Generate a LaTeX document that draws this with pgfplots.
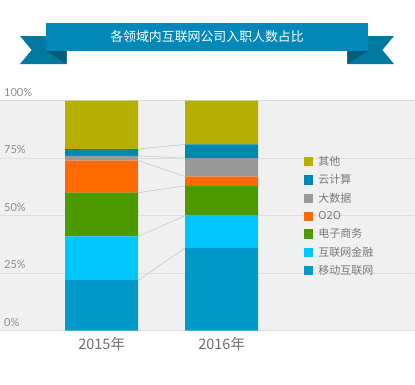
\documentclass[border=0pt]{standalone}
\usepackage{pgfplots}
\pgfplotsset{compat=1.18}
\usepackage{fontspec}
\setmainfont{Noto Sans CJK SC}
\newfontfamily\numfont{Lato}
\definecolor{cOther}{RGB}{181,176,0}
\definecolor{cCloud}{RGB}{0,136,176}
\definecolor{cBig}{RGB}{153,153,153}
\definecolor{cOTO}{RGB}{255,106,0}
\definecolor{cEcom}{RGB}{76,154,0}
\definecolor{cFin}{RGB}{0,198,255}
\definecolor{cMob}{RGB}{0,154,200}
\definecolor{bggray}{RGB}{240,240,240}
\definecolor{gridgray}{RGB}{222,222,222}
\definecolor{txtgray}{RGB}{140,140,140}
\definecolor{yeargray}{RGB}{110,110,110}
\definecolor{legtxt}{RGB}{120,120,120}
\definecolor{ribbon}{RGB}{0,136,184}
\definecolor{ribtail}{RGB}{0,120,160}
\definecolor{ribfold}{RGB}{0,92,124}
\definecolor{linkgray}{RGB}{200,200,200}
\begin{document}
\begin{tikzpicture}[x=1pt,y=1pt]
\useasboundingbox[fill=white] (0,0) rectangle (415,384);
% ribbon
\fill[ribtail] (20,348) -- (66.7,348) -- (66.7,320) -- (20,320) -- (31.7,334) -- cycle;
\fill[ribtail] (394,348) -- (347.3,348) -- (347.3,320) -- (394,320) -- (382.3,334) -- cycle;
\fill[ribfold] (45.7,333.3) -- (66.7,333.3) -- (66.7,320) -- cycle;
\fill[ribfold] (368.3,333.3) -- (347.3,333.3) -- (347.3,320) -- cycle;
\fill[ribbon] (45.7,361.3) rectangle (368.3,333.3);
\node[text=white, font=\fontsize{12.9}{14}\selectfont] at (207,347) {各领域内互联网公司入职人数占比};
\begin{axis}[
  at={(0pt,53.3pt)}, anchor=south west,
  scale only axis, width=415pt, height=230pt,
  xmin=-0.8475, xmax=2.611, ymin=0, ymax=100,
  ybar stacked, bar width=73pt,
  axis background/.style={fill=bggray},
  axis line style={draw=none},
  major tick length=0pt,
  ytick={0,25,50,75,100},
  ymajorgrids, grid style={gridgray, line width=0.8pt},
  yticklabel={\pgfmathprintnumber{\tick}\%},
  /pgf/number format/assume math mode=true,
  yticklabel style={anchor=base west, inner sep=0pt, xshift=4pt, yshift=4.5pt, text=txtgray, font=\numfont\fontsize{11}{12}\selectfont},
  xtick={0,1}, xticklabels={2015年,2016年},
  xticklabel style={anchor=base, inner sep=0pt, yshift=-18.3pt, text=yeargray, font=\fontsize{14.5}{16}\selectfont},
  reverse legend,
  legend cell align=left,
  legend style={at={(rel axis cs:0.7325,0.768)}, anchor=north west, draw=none, fill=none, inner sep=0pt,
    row sep=3.6pt, font=\fontsize{11}{12}\selectfont, text=legtxt,
    /tikz/every odd column/.append style={column sep=3pt}},
  legend image code/.code={\fill[#1] (0pt,-4.6pt) rectangle (9.3pt,4.6pt);},
]
\addplot[fill=cMob, draw=none] coordinates {(0,22) (1,36)};
\addplot[fill=cFin, draw=none] coordinates {(0,19) (1,14)};
\addplot[fill=cEcom, draw=none] coordinates {(0,19) (1,13)};
\addplot[fill=cOTO, draw=none] coordinates {(0,14) (1,4)};
\addplot[fill=cBig, draw=none] coordinates {(0,2) (1,8)};
\addplot[fill=cCloud, draw=none] coordinates {(0,3) (1,6)};
\addplot[fill=cOther, draw=none] coordinates {(0,21) (1,19)};
\legend{移动互联网,互联网金融,电子商务,O2O,大数据,云计算,其他}
\end{axis}
\begin{axis}[
  at={(0pt,53.3pt)}, anchor=south west,
  scale only axis, width=415pt, height=230pt,
  xmin=-0.8475, xmax=2.611, ymin=0, ymax=100,
  hide axis, clip=false,
]
\addplot[linkgray, line width=0.6pt] coordinates {(0.304,22) (0.696,36)};
\addplot[linkgray, line width=0.6pt] coordinates {(0.304,41) (0.696,50)};
\addplot[linkgray, line width=0.6pt] coordinates {(0.304,60) (0.696,63)};
\addplot[linkgray, line width=0.6pt] coordinates {(0.304,74) (0.696,67)};
\addplot[linkgray, line width=0.6pt] coordinates {(0.304,76) (0.696,75)};
\addplot[linkgray, line width=0.6pt] coordinates {(0.304,79) (0.696,81)};
\end{axis}
\end{tikzpicture}
\end{document}
